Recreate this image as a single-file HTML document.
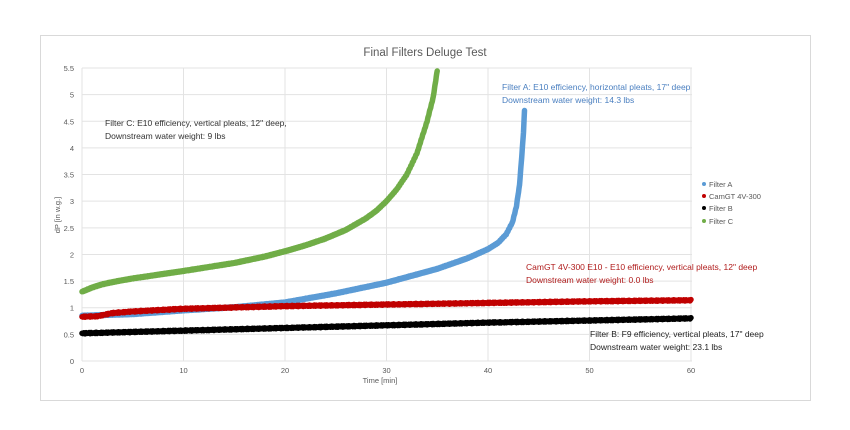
<!DOCTYPE html>
<html><head><meta charset="utf-8"><style>
body{margin:0;background:#fff;width:850px;height:425px;overflow:hidden;font-family:"Liberation Sans",sans-serif}
svg text{font-family:"Liberation Sans",sans-serif}
</style></head><body>
<svg id="s" width="850" height="425" xmlns="http://www.w3.org/2000/svg">
<rect x="40.5" y="35.5" width="770" height="365" fill="#fff" stroke="#d9d9d9"/>
<text x="425" y="56" font-size="11.5" fill="#595959" text-anchor="middle">Final Filters Deluge Test</text>
<g id="grid" stroke="#e3e3e3" stroke-width="1"></g>
<g id="lab" font-size="7.5" fill="#595959"></g>
<text x="380" y="383" font-size="7.5" fill="#595959" text-anchor="middle">Time [min]</text>
<text transform="translate(60,215) rotate(-90)" font-size="7.5" fill="#595959" text-anchor="middle">dP [in w.g.]</text>
<g id="ser" fill="none" stroke-width="5.5" stroke-linecap="round" stroke-linejoin="round"></g>
<g font-size="8.5">
<text x="105" y="126" fill="#333">Filter C: E10 efficiency, vertical pleats, 12" deep,</text>
<text x="105" y="139" fill="#333">Downstream water weight: 9 lbs</text>
<text x="502" y="90" fill="#4a7fc0">Filter A: E10 efficiency, horizontal pleats, 17" deep</text>
<text x="502" y="103" fill="#4a7fc0">Downstream water weight: 14.3 lbs</text>
<text x="526" y="270" fill="#b01c1c">CamGT 4V-300 E10 - E10 efficiency, vertical pleats, 12" deep</text>
<text x="526" y="283" fill="#b01c1c">Downstream water weight: 0.0 lbs</text>
<text x="590" y="337" fill="#222">Filter B: F9 efficiency, vertical pleats, 17" deep</text>
<text x="590" y="350" fill="#222">Downstream water weight: 23.1 lbs</text>
</g>
<g font-size="7.5" fill="#595959">
<circle cx="704" cy="184" r="2" fill="#5b9bd5"/><text x="709" y="187">Filter A</text>
<circle cx="704" cy="196" r="2" fill="#c00000"/><text x="709" y="199">CamGT 4V-300</text>
<circle cx="704" cy="208" r="2" fill="#000"/><text x="709" y="211">Filter B</text>
<circle cx="704" cy="221" r="2" fill="#70ad47"/><text x="709" y="224">Filter C</text>
</g>
</svg>
<script>
var X=function(t){return 82+t*(609/60)},Y=function(v){return 361-v*(293/5.5)};
var g=document.getElementById('grid'),l=document.getElementById('lab'),h='';
for(var i=0;i<=11;i++){var y=Y(i*0.5);h+='<line x1="82" x2="692" y1="'+y+'" y2="'+y+'"/>';}
for(var k=0;k<=6;k++){var x=X(k*10);h+='<line y1="68" y2="361" x1="'+x+'" x2="'+x+'"/>';}
g.innerHTML=h;h='';
for(var i=0;i<=11;i++){h+='<text x="74" y="'+(Y(i*0.5)+3)+'" text-anchor="end">'+(i*0.5)+'</text>';}
for(var k=0;k<=6;k++){h+='<text x="'+X(k*10)+'" y="373" text-anchor="middle">'+(k*10)+'</text>';}
l.innerHTML=h;
function interp(p,t){for(var i=1;i<p.length;i++){if(t<=p[i][0]){var a=p[i-1],b=p[i],f=(t-a[0])/(b[0]-a[0]);return a[1]+f*(b[1]-a[1]);}}return p[p.length-1][1];}
function path(p,col,tend,step,noise){var d='';for(var t=0;t<=tend+1e-9;t+=step){var v=interp(p,t)+(Math.sin(t*37.1)*noise);d+=(d?'L':'M')+X(t).toFixed(1)+','+Y(v).toFixed(1);}
return '<path d="'+d+'" stroke="'+col+'"/>';}
var C=[[0,1.3],[1,1.38],[2,1.44],[3.5,1.5],[5,1.55],[10,1.69],[15,1.84],[18,1.96],[20,2.06],[22,2.17],[24,2.3],[26,2.46],[28,2.68],[29,2.82],[30,3.0],[31,3.22],[32,3.5],[33,3.9],[34,4.5],[34.6,4.95],[35,5.45]];
var A=[[0,0.85],[5,0.88],[10,0.95],[15,1.01],[20,1.1],[25,1.27],[30,1.47],[35,1.73],[38,1.93],[40,2.1],[41,2.22],[41.8,2.38],[42.4,2.6],[42.8,2.9],[43.1,3.3],[43.35,3.9],[43.5,4.3],[43.6,4.7]];
var R=[[0,0.83],[1.5,0.84],[3,0.9],[5,0.93],[10,0.98],[20,1.03],[30,1.06],[40,1.09],[50,1.12],[60,1.14]];
var B=[[0,0.52],[10,0.57],[20,0.62],[30,0.67],[40,0.72],[50,0.76],[60,0.8]];
document.getElementById('ser').innerHTML=path(B,'#000',60,0.1,0.012)+path(A,'#5b9bd5',43.6,0.02,0.008)+path(R,'#c00000',60,0.1,0.012)+path(C,'#70ad47',35,0.02,0.008);
</script>
</body></html>
